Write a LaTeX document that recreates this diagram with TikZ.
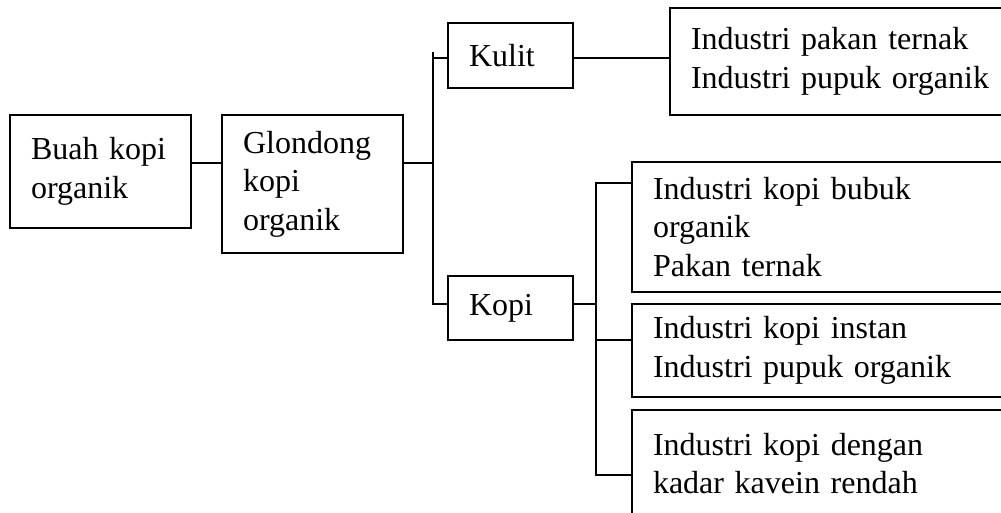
\documentclass[tikz,border=0pt]{standalone}
\usepackage{fontspec}
\setmainfont{Liberation Serif}
\usepackage{tikz}
\usetikzlibrary{calc}

\tikzset{
  kotak/.style={draw,rectangle,line width=1.8pt,align=left,inner xsep=21pt,
    font=\fontsize{32}{38.5}\selectfont},
  garis/.style={line width=1.8pt}
}

\begin{document}
\begin{tikzpicture}[x=1pt,y=-1pt]
          \useasboundingbox (0,0) rectangle (1001,513);
          \clip (0,0) rectangle (1001,513);
          \node[kotak,minimum width=181pt,minimum height=113pt,text width=139pt] (buah) at (100.5,171.5) {Buah kopi\\organik};
          \node[kotak,minimum width=181pt,minimum height=138pt,text width=139pt] (glon) at (312.5,184) {Glondong\\kopi\\organik};
          \node[kotak,minimum width=125pt,minimum height=65pt,text width=83pt] (kulit) at (510.5,55.5) {Kulit};
          \node[kotak,minimum width=125pt,minimum height=64pt,text width=83pt] (kopi) at (510.5,308) {Kopi};
          \node[kotak,minimum width=350pt,minimum height=107pt,text width=308pt] (pakan) at (845,61.5) {Industri pakan ternak\\Industri pupuk organik};
          \node[kotak,minimum width=388pt,minimum height=130pt,text width=346pt] (bubuk) at (826,227) {Industri kopi bubuk\\organik\\Pakan ternak};
          \node[kotak,minimum width=388pt,minimum height=93pt,text width=346pt] (instan) at (826,350.5) {Industri kopi instan\\Industri pupuk organik};
          \node[kotak,minimum width=388pt,minimum height=107pt,text width=346pt] (kavein) at (826,463.5) {Industri kopi dengan\\kadar kavein rendah};
          \coordinate (s1) at (433,163);
          \coordinate (s2) at (596,340);
          \draw[garis] (buah.east |- s1) -- (glon.west |- s1);
          \draw[garis] (glon.east |- s1) -- (s1);
          \draw[garis] (s1 |- 0,52) -- (s1 |- 0,304) -- (kopi.west |- 0,304);
          \draw[garis] (s1 |- 0,58) -- (kulit.west |- 0,58);
          \draw[garis] (kulit.east |- 0,58) -- (pakan.west |- 0,58);
          \draw[garis] (kopi.east |- 0,304) -- (s2 |- 0,304);
          \draw[garis] (bubuk.west |- 0,183) -- (s2 |- 0,183) -- (s2 |- 0,475) -- (kavein.west |- 0,475);
          \draw[garis] (s2) -- (s2 -| instan.west);
        \end{tikzpicture}
\end{document}
